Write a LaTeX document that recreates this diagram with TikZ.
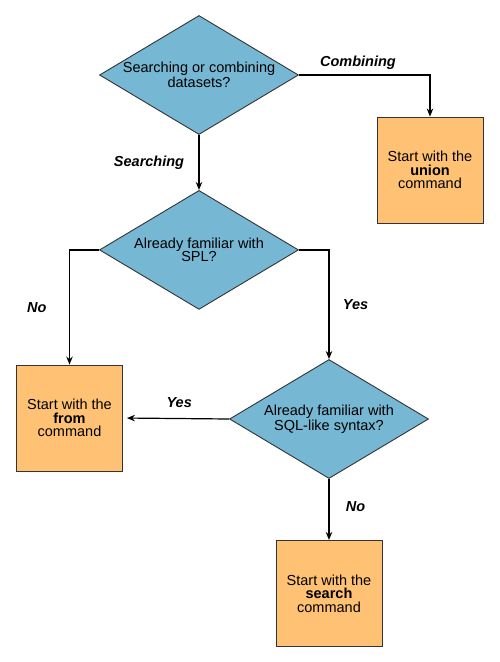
\documentclass[tikz,border=0pt]{standalone}
\usepackage{fontspec}
\setmainfont{Liberation Sans}
\usetikzlibrary{shapes.geometric,arrows.meta,positioning}
\definecolor{qblue}{RGB}{118,183,212}
\definecolor{cmdorange}{RGB}{255,194,116}
\definecolor{edgegray}{RGB}{51,51,51}

\begin{document}
\begin{tikzpicture}[
        x=1pt, y=1pt,
        font=\fontsize{14.5}{13.5}\selectfont,
        decision/.style={diamond, draw=edgegray, fill=qblue, aspect=1.67, inner sep=0pt, minimum width=199pt, minimum height=119pt, align=center, line width=0.9pt},
        cmdbox/.style={rectangle, draw=edgegray, fill=cmdorange, minimum width=106pt, minimum height=106pt, align=center, line width=0.9pt},
        arrow/.style={-{Stealth[length=8pt,width=6.5pt]}, line width=1.2pt},
        lbl/.style={font=\fontsize{14.5}{14}\selectfont\bfseries\itshape}
    ]
        \useasboundingbox (0,0) rectangle (500,-662);
        \node[decision] (q1) at (199,-75) {Searching or combining\\datasets?};
        \node[decision, below=55pt of q1] (q2) {Already familiar with\\SPL?};
        \node[decision] (q3) at (329,-419) {Already familiar with\\SQL-like syntax?};
        \node[cmdbox] (union) at (430,-170) {Start with the\\\textbf{union}\\command};
        \node[cmdbox] (from) at (69.5,-418) {Start with the\\\textbf{from}\\command};
        \node[cmdbox, below=61pt of q3] (search) {Start with the\\\textbf{search}\\command};
        \draw[arrow] (q1.east) -| node[lbl, pos=0.225, above=2pt] {Combining} (union.north);
        \draw[arrow] (q1.south) -- node[lbl, left=11pt] {Searching} (q2.north);
        \draw[arrow] (q2.west) -| node[lbl, pos=0.75, left=19pt] {No} (from.north);
        \draw[arrow] (q2.east) -| node[lbl, pos=0.75, right=10pt] {Yes} (q3.north);
        \draw[arrow, shorten >=4pt] (q3.west) -- node[lbl, pos=0.47, above=7pt] {Yes} (from.east);
        \draw[arrow] (q3.south) -- node[lbl, pos=0.45, right=13pt] {No} (search.north);
    \end{tikzpicture}
\end{document}
